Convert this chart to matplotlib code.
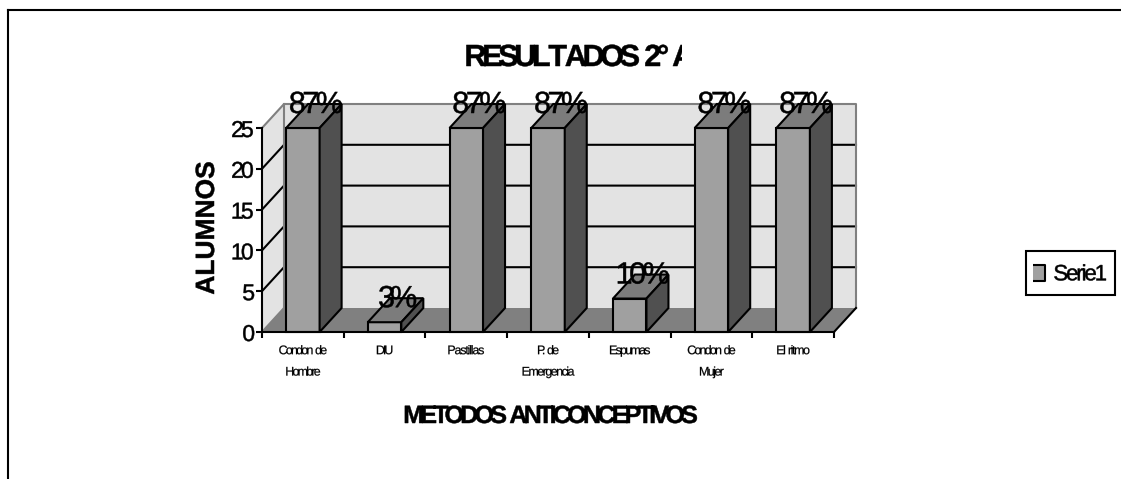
import matplotlib
matplotlib.use("Agg")
import matplotlib.pyplot as plt
import numpy as np
from matplotlib.lines import Line2D
from matplotlib.patches import Polygon
from matplotlib.path import Path
from matplotlib.patheffects import AbstractPathEffect
from matplotlib.transforms import Bbox

plt.rcParams['font.family'] = ['Liberation Sans', 'DejaVu Sans']

categories = ["Condon de\nHombre", "DIU", "Pastillas", "P. de\nEmergencia",
              "Espumas", "Condon de\nMujer", "El ritmo"]
alumnos = [25, 1.2, 25, 25, 4.1, 25, 25]
porcentajes = ["87%", "3%", "87%", "87%", "10%", "87%", "87%"]
yticks = [0, 5, 10, 15, 20, 25]

W, H = 1121, 479
FRONT, TOP, SIDE = "#a0a0a0", "#7c7c7c", "#505050"
WALL, FLOOR, EDGE = "#e3e3e3", "#808080", "#808080"
LW = 1.5


class Tight(AbstractPathEffect):
    # the original text is set with overlapping letters: pull the glyphs
    # together until the string is `ratio` of its natural width
    def __init__(self, ratio, align="center", stroke=0.35):
        super().__init__()
        self.ratio = ratio
        self.align = align
        self.stroke = stroke

    def draw_path(self, renderer, gc, tpath, affine, rgbFace=None):
        verts = tpath.vertices.copy()
        codes = tpath.codes
        starts = list(np.flatnonzero(codes == Path.MOVETO)) + [len(codes)]
        contours = []
        for a, b in zip(starts[:-1], starts[1:]):
            xs = verts[a:b][codes[a:b] != Path.CLOSEPOLY, 0]
            contours.append((xs.min(), xs.max(), a, b))
        contours.sort()
        # contours that overlap in x belong to one glyph
        glyph, end = -1, None
        parts = []
        for x0, x1, a, b in contours:
            if end is None or x0 >= end:
                glyph += 1
                end = x1
            end = max(end, x1)
            parts.append((glyph, a, b))
        if glyph > 0:
            cut = (1 - self.ratio) * (max(c[1] for c in contours) - contours[0][0])
            step = cut / glyph
            base = cut / 2 if self.align == "center" else cut
            for g, a, b in parts:
                verts[a:b, 0] += base - g * step
        gc0 = renderer.new_gc()
        gc0.copy_properties(gc)
        gc0.set_linewidth(self.stroke)
        gc0.set_foreground(rgbFace)
        renderer.draw_path(gc0, Path(verts, codes), affine, rgbFace)
        gc0.restore()


fig = plt.figure(figsize=(W / 100, H / 100), dpi=100)
ax = fig.add_axes([262 / W, 1 - 332 / H, 572 / W, 204 / H])
ax.set_xlim(0, len(alumnos))
ax.set_ylim(0, 25)

# depth of the fake 3d box, in data units
dx = 22 / (572 / 7)
dy = 24 / (204 / 25)
n = len(alumnos)

# walls and floor
ax.add_patch(Polygon([(0, 0), (dx, dy), (dx, 25 + dy), (0, 25)], fc=WALL, ec="none", clip_on=False, zorder=1))
ax.add_patch(Polygon([(dx, dy), (n + dx, dy), (n + dx, 25 + dy), (dx, 25 + dy)], fc=WALL, ec="none", clip_on=False, zorder=1))
ax.add_patch(Polygon([(0, 0), (n, 0), (n + dx, dy), (dx, dy)], fc=FLOOR, ec="none", clip_on=False, zorder=1))

# gridlines run along the side wall and the back wall
for v in yticks[1:-1]:
    ax.plot([0, dx, n + dx], [v, v + dy, v + dy], color="black", lw=LW, clip_on=False, zorder=2)
ax.plot([0, dx, n + dx, n + dx], [25, 25 + dy, 25 + dy, dy], color=EDGE, lw=LW, clip_on=False, zorder=2)
ax.plot([dx, dx], [dy, 25 + dy], color=EDGE, lw=LW, clip_on=False, zorder=2)
ax.plot([0, dx], [0, dy], color=EDGE, lw=LW, clip_on=False, zorder=2)
ax.plot([n, n + dx], [0, dy], color="black", lw=LW, clip_on=False, zorder=2)

# bars
bw = 0.41
for i, v in enumerate(alumnos):
    x0 = i + 0.5 - bw / 2
    x1 = i + 0.5 + bw / 2
    style = dict(ec="black", lw=LW, clip_on=False, zorder=3, joinstyle="miter")
    ax.add_patch(Polygon([(x0, 0), (x1, 0), (x1, v), (x0, v)], fc=FRONT, **style))
    ax.add_patch(Polygon([(x0, v), (x1, v), (x1 + dx, v + dy), (x0 + dx, v + dy)], fc=TOP, **style))
    ax.add_patch(Polygon([(x1, 0), (x1 + dx, dy), (x1 + dx, v + dy), (x1, v)], fc=SIDE, **style))
    ax.text(i + 0.5 + 0.16, v + dy - 0.12, porcentajes[i], fontsize=22, ha="center", va="center",
            color="black", zorder=5, clip_on=False, path_effects=[Tight(0.88)])

# axes
for s in ["top", "right"]:
    ax.spines[s].set_visible(False)
for s in ["left", "bottom"]:
    ax.spines[s].set_linewidth(LW)
    ax.spines[s].set_zorder(4)
ax.patch.set_visible(False)
ax.set_yticks(yticks)
ax.tick_params(axis="y", length=4, width=LW, pad=1, labelsize=16.5)
for t in ax.get_yticklabels():
    t.set_path_effects([Tight(0.88)])
ax.set_xticks(range(n + 1))
ax.set_xticklabels([])
ax.tick_params(axis="x", which="major", length=4.5, width=LW)
ax.set_xticks([i + 0.5 for i in range(n)], minor=True)
ax.set_xticklabels(categories, minor=True, fontsize=9, linespacing=2.04)
ax.tick_params(axis="x", which="minor", length=0, pad=9.5)
for t in ax.get_xticklabels(minor=True):
    t.set_path_effects([Tight(0.79, stroke=0.15)])

# titles, placed by figure pixels
title = fig.text(579 / W, 1 - 58 / H, "RESULTADOS 2° A", fontsize=22, fontweight="bold",
                 ha="center", va="center", path_effects=[Tight(0.84)])
title.set_clip_box(Bbox([[0, 0], [682, H]]))
title.set_clip_on(True)
fig.text(207 / W, 1 - 228 / H, "ALUMNOS", fontsize=19, fontweight="bold", rotation=90,
         ha="center", va="center", path_effects=[Tight(1.0)])
fig.text(550 / W, 1 - 416 / H, "METODOS ANTICONCEPTIVOS", fontsize=18, fontweight="bold",
         ha="center", va="center", path_effects=[Tight(0.79)])

# legend
swatch = Line2D([], [], ls="none", marker=[(-0.5, -1), (0.5, -1), (0.5, 0.45), (-0.5, 0.45)],
                markersize=16, mfc=FRONT, mec="black", mew=LW, label="Serie1")
leg = fig.legend(handles=[swatch], loc="center", bbox_to_anchor=(1070.5 / W, 1 - 273 / H),
                 fontsize=16, fancybox=False, framealpha=1, edgecolor="black", numpoints=1,
                 handlelength=0.5, handleheight=1.5, handletextpad=-0.09,
                 borderpad=0.36, borderaxespad=0)
leg.get_frame().set_linewidth(LW)
for t in leg.get_texts():
    t.set_path_effects([Tight(0.83, align="right")])

# outer border, only top and left show in the picture
fig.add_artist(Line2D([8 / W, 8 / W], [0, 1 - 10 / H], color="black", lw=LW))
fig.add_artist(Line2D([8 / W, 1], [1 - 10 / H, 1 - 10 / H], color="black", lw=LW))

fig.savefig("out.png", dpi=100)
